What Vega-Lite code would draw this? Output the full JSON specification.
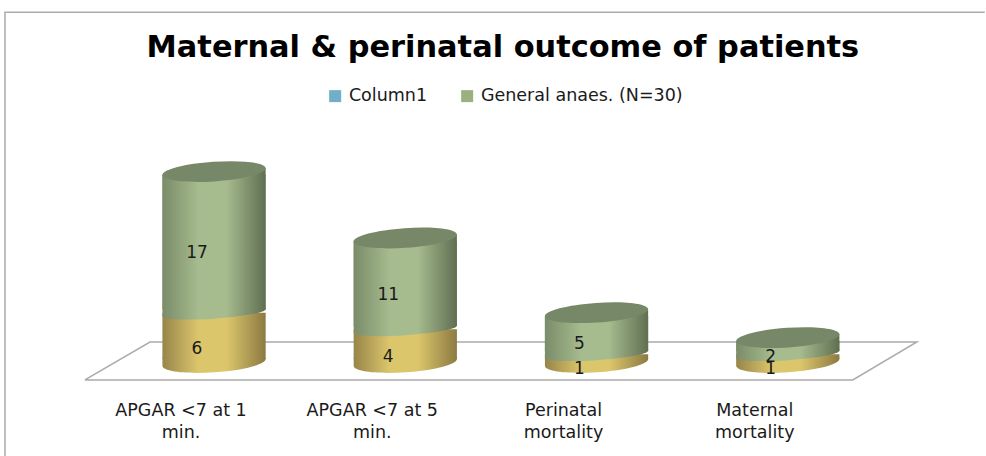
{"$schema":"https://vega.github.io/schema/vega-lite/v6.json","width":765,"height":228.25,"autosize":"none","padding":{"left":118.4,"top":155,"right":102.6,"bottom":72.75},"background":"white","title":{"text":"Maternal & perinatal outcome of patients","font":"DejaVu Sans","fontSize":30.4,"fontWeight":"bold","color":"#000000","anchor":"middle","dx":2,"offset":-54},"config":{"view":{"stroke":null}},"layer":[{"data":{"values":[{"part":"floor","o":1,"u":-0.175,"v":-2.1},{"part":"floor","o":2,"u":0.165,"v":2.47},{"part":"floor","o":3,"u":4.175,"v":2.47},{"part":"floor","o":4,"u":3.84,"v":-2.1},{"part":"floor","o":5,"u":-0.175,"v":-2.1},{"part":"frame","o":1,"u":-0.593,"v":-11.3},{"part":"frame","o":2,"u":-0.593,"v":42.2},{"part":"frame","o":3,"u":4.53,"v":42.2}]},"layer":[{"mark":{"type":"line","color":"#ABABAB","strokeWidth":1.5,"clip":false},"encoding":{"x":{"field":"u","type":"quantitative","axis":null,"scale":{"domain":[0,4],"nice":false,"zero":false}},"y":{"field":"v","type":"quantitative","axis":null,"scale":{"domain":[-2.5,25],"nice":false,"zero":false}},"detail":{"field":"part"},"order":{"field":"o"}}}]},{"data":{"values":[{"cat":"APGAR <7 at 1 min.","series":"Series3","rank":1,"value":6},{"cat":"APGAR <7 at 1 min.","series":"General anaes. (N=30)","rank":2,"value":17},{"cat":"APGAR  <7 at 5 min.","series":"Series3","rank":1,"value":4},{"cat":"APGAR  <7 at 5 min.","series":"General anaes. (N=30)","rank":2,"value":11},{"cat":"Perinatal mortality","series":"Series3","rank":1,"value":1},{"cat":"Perinatal mortality","series":"General anaes. (N=30)","rank":2,"value":5},{"cat":"Maternal mortality","series":"Series3","rank":1,"value":1},{"cat":"Maternal mortality","series":"General anaes. (N=30)","rank":2,"value":2}]},"transform":[{"stack":"value","groupby":["cat"],"sort":[{"field":"rank","order":"ascending"}],"as":["y0","y1"]}],"encoding":{"x":{"field":"cat","type":"nominal","sort":null,"title":null,"scale":{"domain":["APGAR <7 at 1 min.","APGAR  <7 at 5 min.","Perinatal mortality","Maternal mortality"],"paddingInner":0.46,"paddingOuter":0.23},"axis":{"domain":false,"ticks":false,"grid":false,"labelAngle":0,"labelAlign":"center","labelBaseline":"top","labelOffset":-33,"labelPadding":18,"labelFont":"DejaVu Sans","labelFontSize":17.5,"labelColor":"#1a1a1a","labelLimit":300,"labelLineHeight":22,"labelExpr":"[slice(datum.label,0,lastindexof(datum.label,' ')),slice(datum.label,lastindexof(datum.label,' ')+1)]"}},"y":{"field":"y1","type":"quantitative","axis":null,"scale":{"domain":[-2.5,25],"nice":false,"zero":false}}},"layer":[{"transform":[{"filter":"datum.rank==1"}],"mark":{"type":"point","filled":true,"opacity":1,"strokeWidth":0,"size":10650,"shape":"M-1,0.068 A1.0023,0.19,-3.9,0,0,1,-0.068 L1,-0.09 L-1,-0.09 Z","fill":{"gradient":"linear","x1":0,"y1":0,"x2":1,"y2":0,"stops":[{"offset":0,"color":"#97854A"},{"offset":0.35,"color":"#DCC66C"},{"offset":0.62,"color":"#DCC66C"},{"offset":1,"color":"#8C7A42"}]}},"encoding":{"y":{"field":"y0","type":"quantitative"}}},{"transform":[{"filter":"datum.rank==1"}],"mark":{"type":"bar","y2Offset":-3.5,"fill":{"gradient":"linear","x1":0,"y1":0,"x2":1,"y2":0,"stops":[{"offset":0,"color":"#97854A"},{"offset":0.35,"color":"#DCC66C"},{"offset":0.62,"color":"#DCC66C"},{"offset":1,"color":"#8C7A42"}]}},"encoding":{"y2":{"field":"y0"}}},{"transform":[{"filter":"datum.rank==2"}],"mark":{"type":"bar","yOffset":3.5,"y2Offset":-3.5},"encoding":{"y2":{"field":"y0"},"color":{"field":"series","type":"nominal","scale":{"domain":["Column1","General anaes. (N=30)"],"range":["#6FAFC9","#9BB080"]},"legend":{"title":null,"orient":"none","legendX":208,"legendY":-68,"direction":"horizontal","symbolType":"square","symbolSize":144,"symbolStrokeWidth":0,"labelFont":"DejaVu Sans","labelFontSize":17.5,"labelOffset":5,"labelColor":"#1a1a1a","columnPadding":31,"labelLimit":300}}}},{"transform":[{"filter":"datum.rank==2"}],"mark":{"type":"point","filled":true,"opacity":1,"strokeWidth":0,"size":10650,"shape":"M-1,0.068 A1.0023,0.115,-3.9,0,0,1,-0.068 L1,-0.09 L-1,-0.09 Z","fill":{"gradient":"linear","x1":0,"y1":0,"x2":1,"y2":0,"stops":[{"offset":0,"color":"#7A8C69"},{"offset":0.35,"color":"#A6BB8E"},{"offset":0.62,"color":"#A6BB8E"},{"offset":1,"color":"#606F52"}]}},"encoding":{"y":{"field":"y0","type":"quantitative"}}},{"transform":[{"filter":"datum.rank==2"}],"mark":{"type":"bar","yOffset":3.5,"y2Offset":-3.5,"fill":{"gradient":"linear","x1":0,"y1":0,"x2":1,"y2":0,"stops":[{"offset":0,"color":"#7A8C69"},{"offset":0.35,"color":"#A6BB8E"},{"offset":0.62,"color":"#A6BB8E"},{"offset":1,"color":"#606F52"}]}},"encoding":{"y2":{"field":"y0"}}},{"transform":[{"filter":"datum.rank==2"}],"mark":{"type":"point","filled":true,"opacity":1,"strokeWidth":0,"size":10650,"shape":"M-1,0.068 L1,-0.068 L1,0.09 L-1,0.09 Z","fill":{"gradient":"linear","x1":0,"y1":0,"x2":1,"y2":0,"stops":[{"offset":0,"color":"#7A8C69"},{"offset":0.35,"color":"#A6BB8E"},{"offset":0.62,"color":"#A6BB8E"},{"offset":1,"color":"#606F52"}]}}},{"transform":[{"filter":"datum.rank==2"}],"mark":{"type":"point","filled":true,"opacity":1,"strokeWidth":0,"size":10650,"fill":"#778868","shape":"M-1,0.068 A1.0023,0.19,-3.9,0,0,1,-0.068 A1.0023,0.19,-3.9,0,0,-1,0.068 Z"}},{"transform":[{"fold":["y0","y1"],"as":["edge","edgeValue"]},{"aggregate":[{"op":"mean","field":"edgeValue","as":"mid"}],"groupby":["cat","series","value"]}],"mark":{"type":"text","font":"DejaVu Sans","fontSize":17,"color":"#1a1a1a","dx":-17,"dy":11},"encoding":{"y":{"field":"mid","type":"quantitative"},"text":{"field":"value","type":"quantitative"}}}]}],"resolve":{"scale":{"x":"independent"}}}
